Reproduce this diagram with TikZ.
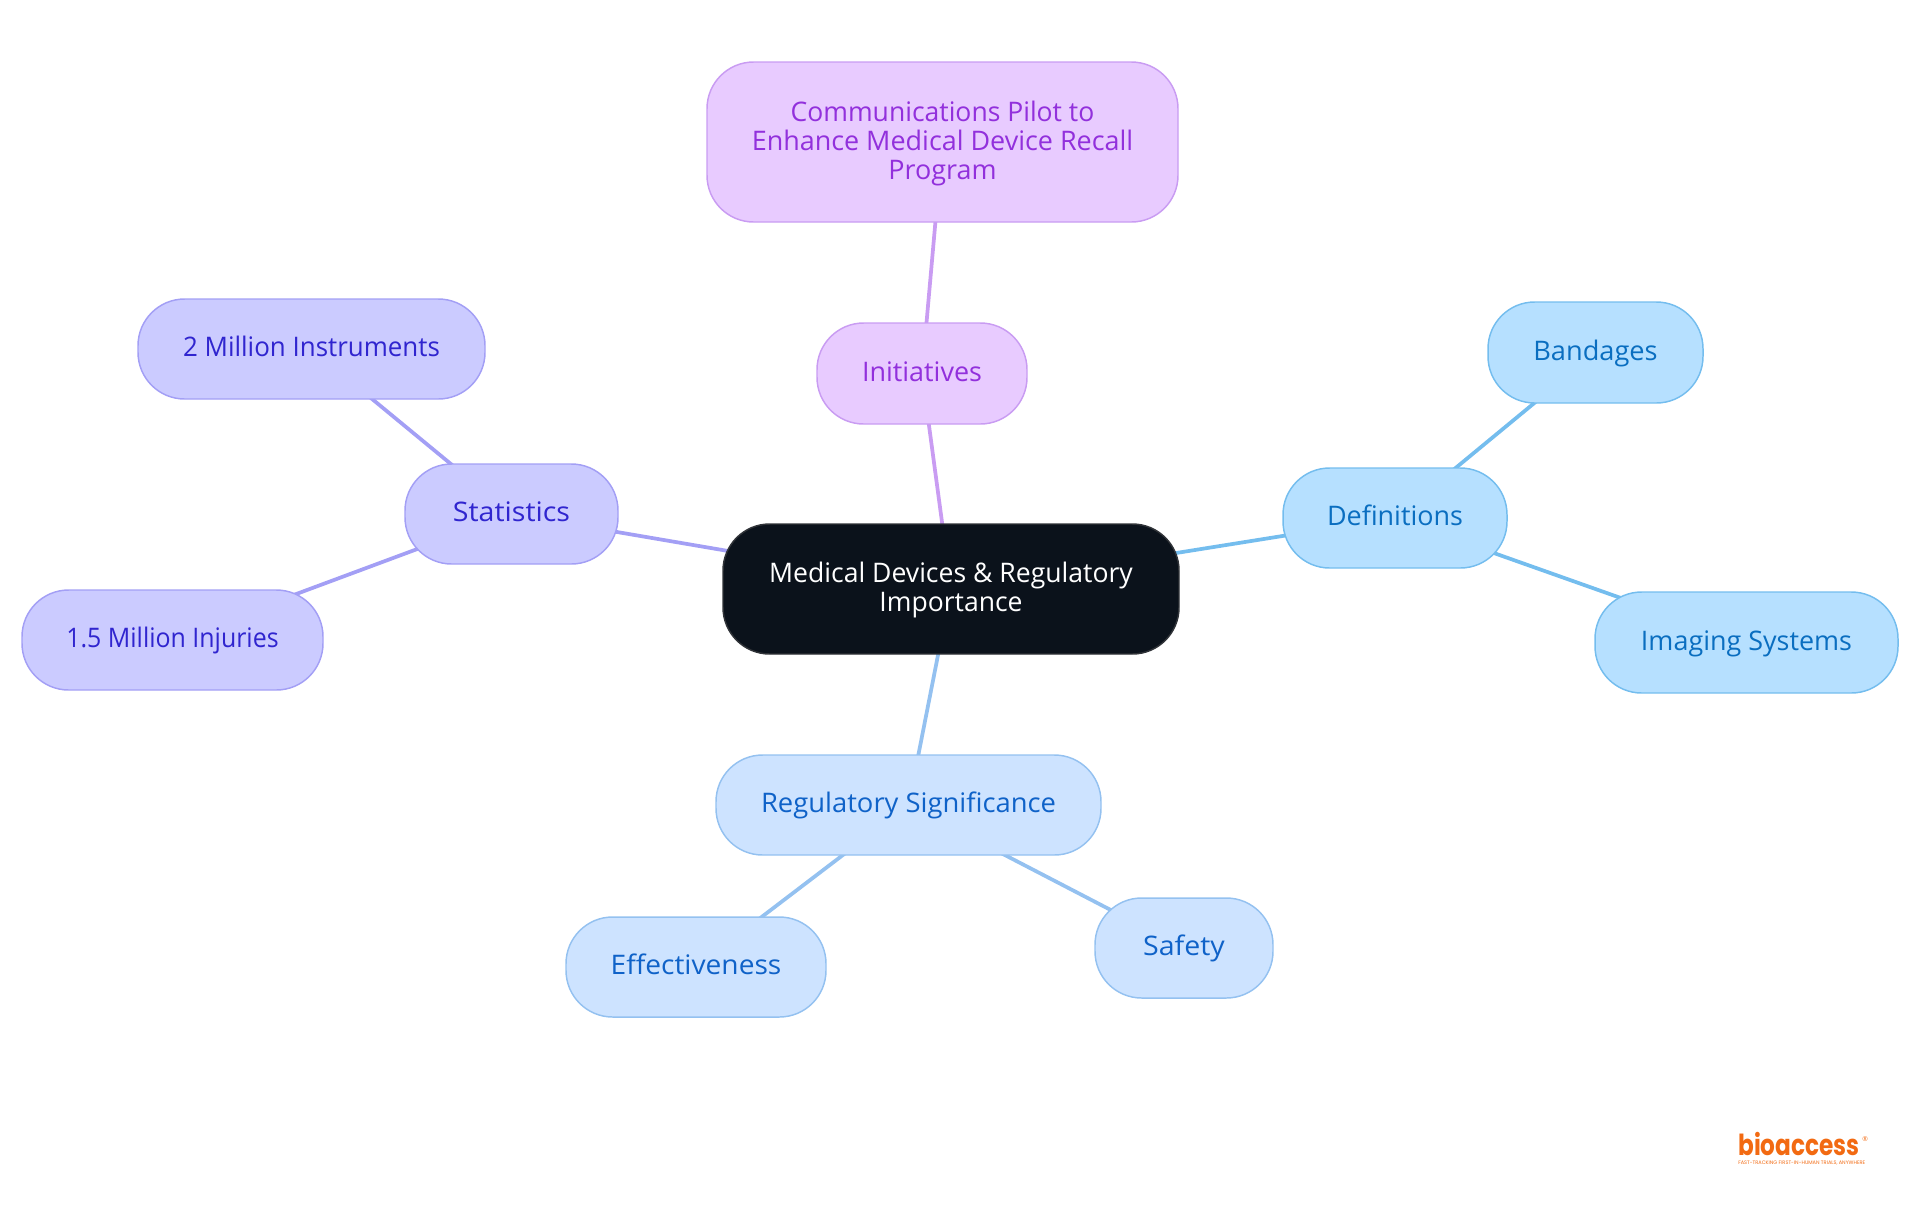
\documentclass[tikz,border=0pt]{standalone}
\usepackage{fontspec}
\setmainfont{Open Sans}
\newfontfamily\logofont{Poppins}
\usetikzlibrary{backgrounds}
\definecolor{rootfill}{HTML}{0B121B}
\definecolor{rootline}{HTML}{303338}
\definecolor{purfill}{HTML}{E8CBFF}
\definecolor{purline}{HTML}{C99CF2}
\definecolor{purtext}{HTML}{9230DC}
\definecolor{indfill}{HTML}{CBCBFF}
\definecolor{indline}{HTML}{A39FF5}
\definecolor{indtext}{HTML}{3025CF}
\definecolor{skyfill}{HTML}{B6E0FF}
\definecolor{skyline}{HTML}{74BDEE}
\definecolor{skytext}{HTML}{0A6EC0}
\definecolor{blufill}{HTML}{CDE3FF}
\definecolor{bluline}{HTML}{94C1F0}
\definecolor{blutext}{HTML}{0F62C8}
\definecolor{logoorange}{HTML}{F26A12}
\tikzset{
  x=0.75pt,y=-0.75pt,
  pill/.style={draw,line width=1.1pt,rounded corners=35pt,inner sep=0pt,outer sep=0pt,align=center,
    font=\fontsize{20.2}{21.8}\selectfont},
  rootpill/.style={pill,fill=rootfill,draw=rootline,text=white},
  purpill/.style={pill,fill=purfill,draw=purline,text=purtext},
  indpill/.style={pill,fill=indfill,draw=indline,text=indtext},
  skypill/.style={pill,fill=skyfill,draw=skyline,text=skytext},
  blupill/.style={pill,fill=blufill,draw=bluline,text=blutext},
  link/.style={line width=2.8pt},
}
\newcommand{\pillnode}[7]{% style,name,x1,y1,x2,y2,text
  \node[#1,minimum width=#5*0.75pt-#3*0.75pt,minimum height=#6*0.75pt-#4*0.75pt] (#2) at ({(#3+#5)/2},{(#4+#6)/2}) {#7};}
\newcommand{\oneline}[2]{\rule{0pt}{16.2pt}\scalebox{#1}[1]{\vphantom{g}#2}}
\newcommand{\topstrut}{\rule{0pt}{17.2pt}}
\begin{document}
\begin{tikzpicture}
\useasboundingbox (0,0) rectangle (1920,1215);
\pillnode{rootpill}{root}{723}{524}{1179}{654}{\topstrut\scalebox{0.987}[1]{Medical Devices \& Regulatory}\\\scalebox{0.985}[1]{Importance}}
\pillnode{purpill}{pilot}{707}{62}{1178}{222}{\topstrut\scalebox{0.985}[1]{Communications Pilot to}\\Enhance Medical Device Recall\\Program}
\pillnode{purpill}{init}{817}{323}{1027}{424}{\oneline{1}{Initiatives}}
\pillnode{indpill}{stats}{405}{464}{618}{564}{\oneline{1.06}{Statistics}}
\pillnode{indpill}{instr}{138}{299}{485}{399}{\oneline{0.963}{2 Million Instruments}}
\pillnode{indpill}{injur}{22}{590}{323}{690}{\oneline{0.925}{1.5 Million Injuries}}
\pillnode{skypill}{defs}{1283}{468}{1507}{568}{\oneline{1}{Definitions}}
\pillnode{skypill}{band}{1488}{302}{1703}{403}{\oneline{1.01}{Bandages}}
\pillnode{skypill}{imag}{1595}{592}{1898}{693}{\oneline{1}{Imaging Systems}}
\pillnode{blupill}{regs}{716}{755}{1101}{855}{\oneline{1.017}{Regulatory Significance}}
\pillnode{blupill}{effe}{566}{917}{826}{1017}{\oneline{1.045}{Effectiveness}}
\pillnode{blupill}{safe}{1095}{898}{1273}{998}{\oneline{1.06}{Safety}}
\begin{scope}[on background layer]
\draw[link,purline] (root.center) -- (init.center);
\draw[link,purline] (init.center) -- (pilot.center);
\draw[link,indline] (root.center) -- (stats.center);
\draw[link,indline] (stats.center) -- (instr.center);
\draw[link,indline] (stats.center) -- (injur.center);
\draw[link,skyline] (root.center) -- (defs.center);
\draw[link,skyline] (defs.center) -- (band.center);
\draw[link,skyline] (defs.center) -- (imag.center);
\draw[link,bluline] (root.center) -- (regs.center);
\draw[link,bluline] (regs.center) -- (effe.center);
\draw[link,bluline] (regs.center) -- (safe.center);
\end{scope}
\node[anchor=base west,inner sep=0pt,text=logoorange,font=\logofont\bfseries\fontsize{17.4}{17.4}\selectfont] (logo) at (1738,1155) {\scalebox{1}[1.25]{bioaccess}};
\node[anchor=center,inner sep=0pt,text=logoorange,font=\fontsize{5}{5}\selectfont] (logoreg) at (1865,1139) {®};
\node[anchor=base west,inner sep=0pt,text=logoorange,font=\logofont\fontsize{3.77}{4}\selectfont] (logotag) at (1738,1164) {FAST-TRACKING FIRST-IN-HUMAN TRIALS, ANYWHERE};
\end{tikzpicture}
\end{document}
